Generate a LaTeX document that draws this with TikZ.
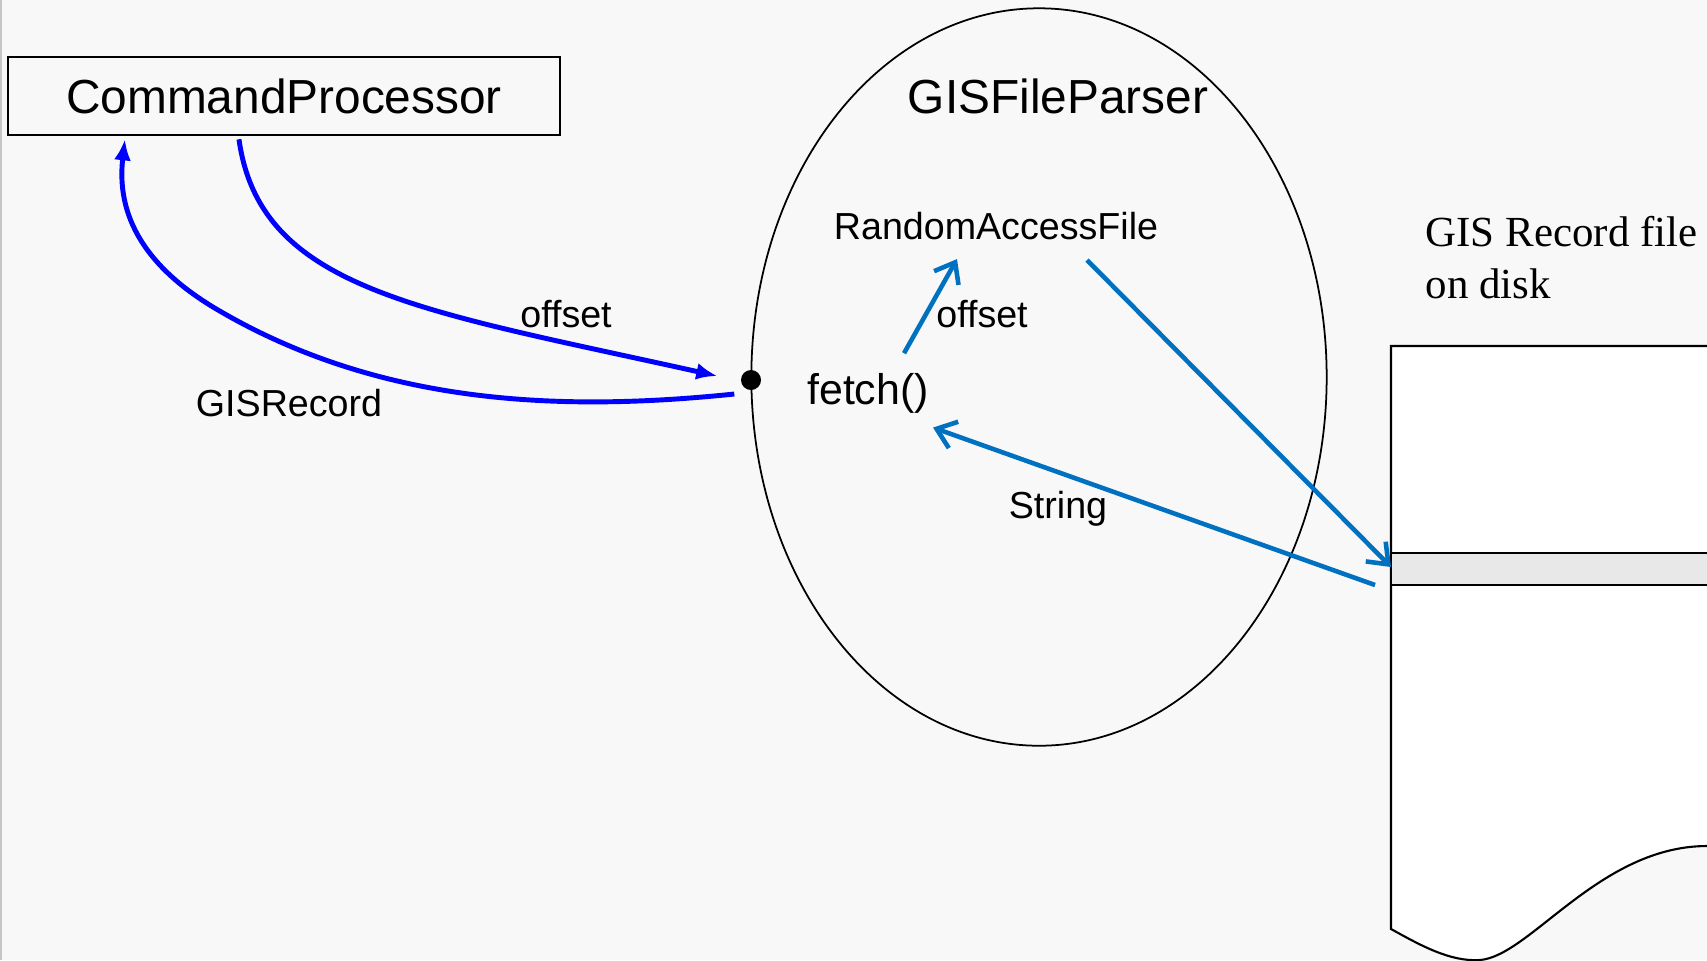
\documentclass[tikz,border=0pt]{standalone}
\usepackage{fontspec}
\setmainfont{Liberation Sans}
\newfontfamily\diskfont{Liberation Serif}
\usetikzlibrary{arrows.meta,shapes.geometric}
\definecolor{slidebg}{HTML}{F8F8F8}
\definecolor{callblue}{HTML}{0000FF}
\definecolor{fileblue}{HTML}{0070C0}
\definecolor{slotgray}{HTML}{E8E8E8}

\begin{document}
\begin{tikzpicture}[x=0.01cm,y=-0.01cm,
  call/.style={callblue,line width=1.4pt,-{Latex[length=2.1mm,width=1.7mm]}},
  flow/.style={fileblue,line width=1.3pt,-{Straight Barb[length=1.8mm,width=2.8mm]}},
  big/.style={font=\fontsize{13.6}{16}\selectfont,inner sep=0,anchor=base},
  small/.style={font=\fontsize{10.7}{13}\selectfont,inner sep=0,anchor=base}]
\useasboundingbox (0,0) rectangle (1707,960);
\clip (0,0) rectangle (1707,960);
\fill[slidebg] (0,0) rectangle (1707,960);
\draw[gray!45,line width=0.6pt] (1,0) -- (1,960);
% file on disk
\draw[line width=0.6pt,fill=white] (1800,346) -- (1391,346) -- (1391,929) .. controls (1420,945) and (1450,962) .. (1480,960) .. controls (1530,956) and (1600,846) .. (1707,846) -- (1800,846) -- cycle;
\draw[line width=0.6pt,fill=slotgray] (1391,553) rectangle (1800,585);
\coordinate (slot) at (1391,567);
\coordinate (slotout) at (1375,585);
\node[font=\diskfont\fontsize{12.2}{14.8}\selectfont,align=left,inner sep=0,anchor=north west] (disk) at (1425,216) {GIS Record file\\on disk};
% parser
\node[draw,ellipse,line width=0.5pt,inner sep=0,minimum width=5.75cm,minimum height=7.37cm] (parser) at (1039,377) {};
\node[big] (ptitle) at (1058,113) {GISFileParser};
\node[font=\fontsize{12.2}{14}\selectfont,inner sep=0,anchor=base] (fetch) at (868,404) {fetch()};
\node[small] (raf) at (996,239) {RandomAccessFile};
\node[circle,fill,inner sep=0,minimum size=2mm] (port) at (751,380) {};
\node[draw,line width=0.6pt,minimum width=5.51cm,minimum height=0.784cm,font=\fontsize{13.6}{16}\selectfont] (cp) at (284,96) {CommandProcessor};
% calls
\draw[call] ([xshift=-4.5mm,yshift=-0.3mm]cp.south) .. controls (260,290) and (420,310) .. ([xshift=-2.3mm,yshift=0.4mm]port.west);
\draw[call] ([xshift=-0.6mm,yshift=-1.4mm]port.west) .. controls (560,412) and (380,405) .. (218,310) .. controls (129,258) and (118,200) .. ([xshift=-15.9mm,yshift=-0.3mm]cp.south);
\node[small] (offa) at (566,327) {offset};
\node[small] (rec) at (289,416) {GISRecord};
% inside the parser
\draw[flow] ([xshift=3.6mm,yshift=1.9mm]fetch.north) -- ([xshift=-3.9mm,yshift=-1.9mm]raf.south);
\node[small] (offb) at (982,327) {offset};
\draw[flow] ([xshift=9.1mm,yshift=-2mm]raf.south) -- (slot);
\draw[flow] (slotout) -- ([xshift=6.5mm,yshift=-1.4mm]fetch.south);
\node[small] (str) at (1058,518) {String};
\end{tikzpicture}
\end{document}
